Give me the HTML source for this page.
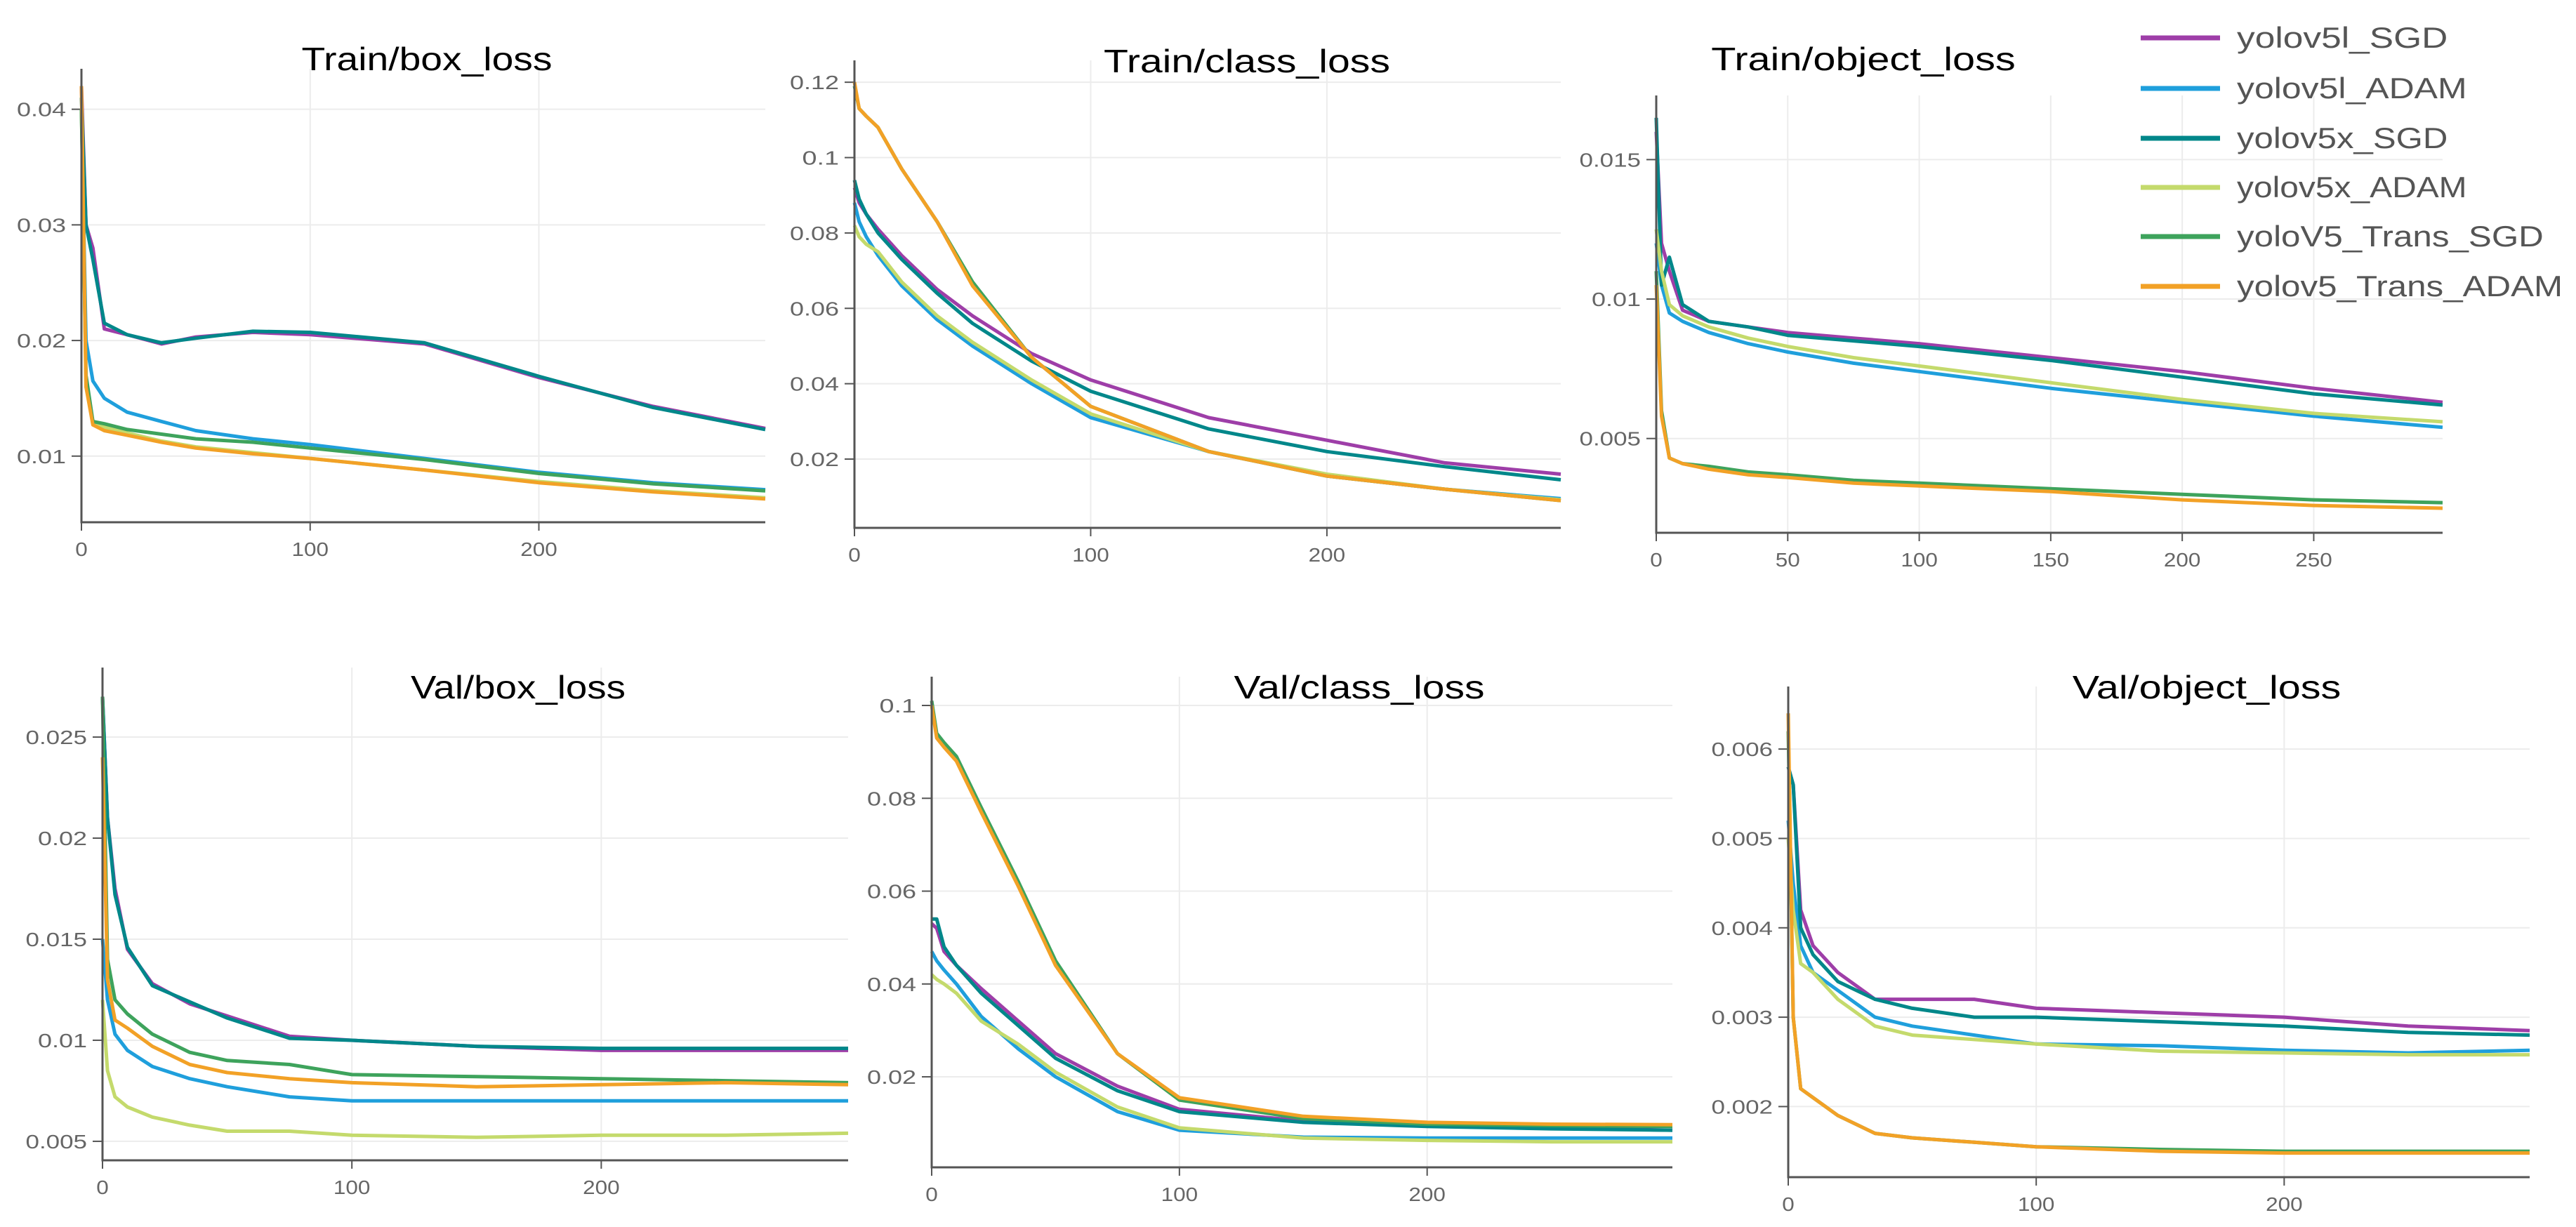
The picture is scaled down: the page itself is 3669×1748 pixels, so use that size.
<!DOCTYPE html>
<html><head><meta charset="utf-8"><style>
html,body{margin:0;padding:0;background:#fff;}
svg{display:block;}
</style></head><body>
<svg id="chart" width="3669" height="1748" viewBox="0 0 3669 1748" xmlns="http://www.w3.org/2000/svg" font-family="'Liberation Sans', sans-serif"></svg>
<script>
// ---- data ----
const seriesNames = ["yolov5l_SGD","yolov5l_ADAM","yolov5x_SGD","yolov5x_ADAM","yoloV5_Trans_SGD","yolov5_Trans_ADAM"];
const seriesColors = ["#9e3ea8","#1f9fdc","#00878a","#c4da6c","#3ea35c","#f2a126"];
const epochs = [0,2,5,10,20,35,50,75,100,150,200,250,299];

const trainBox_l_SGD  = [0.042,0.030,0.028,0.021,0.0205,0.0197,0.0203,0.0207,0.0205,0.0197,0.0168,0.0143,0.0124];
const trainBox_l_ADAM = [0.040,0.020,0.0165,0.015,0.0138,0.0130,0.0122,0.0115,0.0110,0.0098,0.0086,0.0077,0.0071];
const trainBox_x_SGD  = [0.041,0.030,0.027,0.0215,0.0205,0.0198,0.0202,0.0208,0.0207,0.0198,0.0169,0.0142,0.0123];
const trainBox_x_ADAM = [0.040,0.016,0.013,0.0125,0.0120,0.0113,0.0108,0.0103,0.0098,0.0088,0.0078,0.0070,0.0064];
const trainBox_t_SGD  = [0.040,0.017,0.013,0.0128,0.0123,0.0119,0.0115,0.0112,0.0107,0.0097,0.0085,0.0076,0.0070];
const trainBox_t_ADAM = [0.042,0.016,0.0127,0.0122,0.0118,0.0112,0.0107,0.0102,0.0098,0.0088,0.0077,0.0069,0.0063];

const trainCls_l_SGD  = [0.092,0.088,0.085,0.081,0.074,0.065,0.058,0.048,0.041,0.031,0.025,0.019,0.016];
const trainCls_l_ADAM = [0.088,0.083,0.079,0.074,0.066,0.057,0.050,0.040,0.031,0.022,0.0155,0.012,0.0095];
const trainCls_x_SGD  = [0.094,0.089,0.085,0.080,0.073,0.064,0.056,0.046,0.038,0.028,0.022,0.018,0.0145];
const trainCls_x_ADAM = [0.082,0.079,0.077,0.075,0.067,0.058,0.051,0.041,0.032,0.022,0.016,0.012,0.0092];
const trainCls_t_SGD  = [0.119,0.113,0.111,0.108,0.097,0.083,0.067,0.047,0.034,0.022,0.0155,0.012,0.009];
const trainCls_t_ADAM = [0.120,0.113,0.111,0.108,0.097,0.083,0.066,0.047,0.034,0.022,0.0155,0.012,0.009];

const trainObj_l_SGD  = [0.016,0.012,0.011,0.0096,0.0092,0.0090,0.0088,0.0086,0.0084,0.0079,0.0074,0.0068,0.0063];
const trainObj_l_ADAM = [0.012,0.0105,0.0095,0.0092,0.0088,0.0084,0.0081,0.0077,0.0074,0.0068,0.0063,0.0058,0.0054];
const trainObj_x_SGD  = [0.0165,0.0105,0.0115,0.0098,0.0092,0.0090,0.0087,0.0085,0.0083,0.0078,0.0072,0.0066,0.0062];
const trainObj_x_ADAM = [0.0125,0.011,0.0098,0.0094,0.0090,0.0086,0.0083,0.0079,0.0076,0.0070,0.0064,0.0059,0.0056];
const trainObj_t_SGD  = [0.011,0.006,0.0043,0.0041,0.0040,0.0038,0.0037,0.0035,0.0034,0.0032,0.0030,0.0028,0.0027];
const trainObj_t_ADAM = [0.0105,0.0058,0.0043,0.0041,0.0039,0.0037,0.0036,0.0034,0.0033,0.0031,0.0028,0.0026,0.0025];

const valBox_l_SGD  = [0.027,0.021,0.0175,0.0145,0.0128,0.0118,0.0112,0.0102,0.0100,0.0097,0.0095,0.0095,0.0095];
const valBox_l_ADAM = [0.015,0.012,0.0103,0.0095,0.0087,0.0081,0.0077,0.0072,0.0070,0.0070,0.0070,0.0070,0.0070];
const valBox_x_SGD  = [0.027,0.021,0.0172,0.0146,0.0127,0.0119,0.0111,0.0101,0.0100,0.0097,0.0096,0.0096,0.0096];
const valBox_x_ADAM = [0.012,0.0085,0.0072,0.0067,0.0062,0.0058,0.0055,0.0055,0.0053,0.0052,0.0053,0.0053,0.0054];
const valBox_t_SGD  = [0.027,0.014,0.012,0.0113,0.0103,0.0094,0.0090,0.0088,0.0083,0.0082,0.0081,0.0080,0.0079];
const valBox_t_ADAM = [0.024,0.013,0.011,0.0106,0.0097,0.0088,0.0084,0.0081,0.0079,0.0077,0.0078,0.0079,0.0078];

const valCls_l_SGD  = [0.053,0.052,0.047,0.044,0.039,0.032,0.025,0.018,0.013,0.0105,0.0095,0.0090,0.0085];
const valCls_l_ADAM = [0.047,0.045,0.043,0.040,0.033,0.026,0.020,0.0125,0.0085,0.0070,0.0068,0.0068,0.0068];
const valCls_x_SGD  = [0.054,0.054,0.048,0.044,0.038,0.031,0.024,0.017,0.0125,0.0102,0.0093,0.0088,0.0085];
const valCls_x_ADAM = [0.042,0.041,0.040,0.038,0.032,0.027,0.021,0.0135,0.0090,0.0068,0.0063,0.0060,0.0060];
const valCls_t_SGD  = [0.101,0.094,0.092,0.089,0.078,0.062,0.045,0.025,0.0150,0.0110,0.0098,0.0095,0.0093];
const valCls_t_ADAM = [0.100,0.093,0.091,0.088,0.077,0.061,0.044,0.025,0.0155,0.0115,0.0102,0.0098,0.0097];

const valObj_l_SGD  = [0.0058,0.0056,0.0042,0.0038,0.0035,0.0032,0.0032,0.0032,0.0031,0.00305,0.0030,0.0029,0.00285];
const valObj_l_ADAM = [0.0052,0.0045,0.0038,0.0035,0.0033,0.0030,0.0029,0.0028,0.0027,0.00268,0.00263,0.0026,0.00263];
const valObj_x_SGD  = [0.0058,0.0056,0.0040,0.0037,0.0034,0.0032,0.0031,0.0030,0.0030,0.00295,0.0029,0.00283,0.0028];
const valObj_x_ADAM = [0.0050,0.0042,0.0036,0.0035,0.0032,0.0029,0.0028,0.00275,0.0027,0.00262,0.0026,0.00258,0.00258];
const valObj_t_SGD  = [0.0062,0.0030,0.0022,0.0021,0.0019,0.0017,0.00165,0.0016,0.00155,0.00152,0.0015,0.0015,0.0015];
const valObj_t_ADAM = [0.0064,0.0030,0.0022,0.0021,0.0019,0.0017,0.00165,0.0016,0.00155,0.0015,0.00148,0.00148,0.00148];

const titles = ["Train/box_loss","Train/class_loss","Train/object_loss","Val/box_loss","Val/class_loss","Val/object_loss"];
const yTicks0 = [0.01,0.02,0.03,0.04];
const yTickLabels0 = ["0.01","0.02","0.03","0.04"];
const yTicks1 = [0.02,0.04,0.06,0.08,0.1,0.12];
const yTickLabels1 = ["0.02","0.04","0.06","0.08","0.1","0.12"];
const yTicks2 = [0.005,0.01,0.015];
const yTickLabels2 = ["0.005","0.01","0.015"];
const yTicks3 = [0.005,0.01,0.015,0.02,0.025];
const yTickLabels3 = ["0.005","0.01","0.015","0.02","0.025"];
const yTicks4 = [0.02,0.04,0.06,0.08,0.1];
const yTickLabels4 = ["0.02","0.04","0.06","0.08","0.1"];
const yTicks5 = [0.002,0.003,0.004,0.005,0.006];
const yTickLabels5 = ["0.002","0.003","0.004","0.005","0.006"];
const xTicksA = [0,100,200];
const xTicksB = [0,50,100,150,200,250];

// ---- layout (pixels, not data) ----
const panels = [
 {x0:116,x1:1090,yB:744,yT:98,vB:0.00428,vT:0.0435,tx:608,ty:100,yt:yTicks0,yl:yTickLabels0,xt:xTicksA,
  s:[trainBox_l_SGD,trainBox_l_ADAM,trainBox_x_SGD,trainBox_x_ADAM,trainBox_t_SGD,trainBox_t_ADAM],n:"train-box-loss"},
 {x0:1217,x1:2223,yB:752,yT:86,vB:0.00175,vT:0.1258,tx:1776,ty:103,yt:yTicks1,yl:yTickLabels1,xt:xTicksA,
  s:[trainCls_l_SGD,trainCls_l_ADAM,trainCls_x_SGD,trainCls_x_ADAM,trainCls_t_SGD,trainCls_t_ADAM],n:"train-class-loss"},
 {x0:2359,x1:3479,yB:759,yT:136,vB:0.00162,vT:0.0173,tx:2654,ty:100,yt:yTicks2,yl:yTickLabels2,xt:xTicksB,
  s:[trainObj_l_SGD,trainObj_l_ADAM,trainObj_x_SGD,trainObj_x_ADAM,trainObj_t_SGD,trainObj_t_ADAM],n:"train-object-loss"},
 {x0:146,x1:1208,yB:1653,yT:951,vB:0.00406,vT:0.02844,tx:738,ty:995,yt:yTicks3,yl:yTickLabels3,xt:xTicksA,
  s:[valBox_l_SGD,valBox_l_ADAM,valBox_x_SGD,valBox_x_ADAM,valBox_t_SGD,valBox_t_ADAM],n:"val-box-loss"},
 {x0:1327,x1:2382,yB:1663,yT:964,vB:0.0005,vT:0.1062,tx:1936,ty:995,yt:yTicks4,yl:yTickLabels4,xt:xTicksA,
  s:[valCls_l_SGD,valCls_l_ADAM,valCls_x_SGD,valCls_x_ADAM,valCls_t_SGD,valCls_t_ADAM],n:"val-class-loss"},
 {x0:2547,x1:3603,yB:1677,yT:978,vB:0.00121,vT:0.0067,tx:3143,ty:995,yt:yTicks5,yl:yTickLabels5,xt:xTicksA,
  s:[valObj_l_SGD,valObj_l_ADAM,valObj_x_SGD,valObj_x_ADAM,valObj_t_SGD,valObj_t_ADAM],n:"val-object-loss"}
];
const XMAX = 299;
const svg = document.getElementById('chart');
const NS = "http://www.w3.org/2000/svg";
function mk(tag, parent){ const e=document.createElementNS(NS,tag); parent.appendChild(e); return e; }

panels.forEach((p,pi)=>{
  const g = mk('g',svg);
  
  
  const xs = v => p.x0 + (v/XMAX)*(p.x1-p.x0);
  const ys = v => p.yB - (v-p.vB)/(p.vT-p.vB)*(p.yB-p.yT);
  p.yt.forEach((t,i)=>{
    const l = mk('line',g);
    
    
    l.setAttribute('x1',p.x0); l.setAttribute('x2',p.x1); l.setAttribute('y1',ys(t)); l.setAttribute('y2',ys(t));
    l.setAttribute('stroke','#ececec'); l.setAttribute('stroke-width','2');
    const tk = mk('line',g);
    
    
    tk.setAttribute('x1',p.x0-14); tk.setAttribute('x2',p.x0); tk.setAttribute('y1',ys(t)); tk.setAttribute('y2',ys(t));
    tk.setAttribute('stroke','#555'); tk.setAttribute('stroke-width','2');
    const tx = mk('text',g);
    
    
    tx.setAttribute('x',p.x0-22); tx.setAttribute('y',ys(t)+10); tx.setAttribute('text-anchor','end');
    tx.setAttribute('font-size','28'); tx.setAttribute('fill','#666');
    tx.setAttribute('textLength', p.yl[i].length*17.5); tx.setAttribute('lengthAdjust','spacingAndGlyphs');
    tx.textContent = p.yl[i];
  });
  p.xt.forEach(t=>{
    if(t>0){
      const l = mk('line',g);
      
      
      l.setAttribute('x1',xs(t)); l.setAttribute('x2',xs(t)); l.setAttribute('y1',p.yT); l.setAttribute('y2',p.yB);
      l.setAttribute('stroke','#ececec'); l.setAttribute('stroke-width','2');
    }
    const tk = mk('line',g);
    
    
    tk.setAttribute('x1',xs(t)); tk.setAttribute('x2',xs(t)); tk.setAttribute('y1',p.yB); tk.setAttribute('y2',p.yB+12);
    tk.setAttribute('stroke','#555'); tk.setAttribute('stroke-width','2');
    const tx = mk('text',g);
    
    
    tx.setAttribute('x',xs(t)); tx.setAttribute('y',p.yB+48); tx.setAttribute('text-anchor','middle');
    tx.setAttribute('font-size','28'); tx.setAttribute('fill','#666');
    tx.setAttribute('textLength', String(t).length*17.5); tx.setAttribute('lengthAdjust','spacingAndGlyphs');
    tx.textContent = String(t);
  });
  p.s.forEach((arr,si)=>{
    const pl = mk('polyline',g);
    
    
    pl.setAttribute('points', arr.map((v,k)=>xs(epochs[k]).toFixed(1)+','+ys(v).toFixed(1)).join(' '));
    pl.setAttribute('fill','none'); pl.setAttribute('stroke',seriesColors[si]);
    pl.setAttribute('stroke-width','5'); pl.setAttribute('stroke-linejoin','round');
  });
  const ax = mk('path',g);
  
  
  ax.setAttribute('d',`M${p.x0},${p.yT} L${p.x0},${p.yB} L${p.x1},${p.yB}`);
  ax.setAttribute('fill','none'); ax.setAttribute('stroke','#555'); ax.setAttribute('stroke-width','3');
  const tt = mk('text',g);
  
  
  tt.setAttribute('x',p.tx); tt.setAttribute('y',p.ty); tt.setAttribute('text-anchor','middle');
  tt.setAttribute('font-size','46'); tt.setAttribute('fill','#000');
  tt.setAttribute('textLength', titles[pi].length*25.5); tt.setAttribute('lengthAdjust','spacingAndGlyphs');
  tt.textContent = titles[pi];
});

const lg = mk('g',svg);


const legendY = [54,126,197,267,337,408];
seriesNames.forEach((nm,i)=>{
  const e = mk('g',lg);
  
  
  const l = mk('line',e);
  
  
  l.setAttribute('x1',3049); l.setAttribute('x2',3162); l.setAttribute('y1',legendY[i]); l.setAttribute('y2',legendY[i]);
  l.setAttribute('stroke',seriesColors[i]); l.setAttribute('stroke-width','7');
  const t = mk('text',e);
  
  
  t.setAttribute('x',3186); t.setAttribute('y',legendY[i]+14);
  t.setAttribute('font-size','42'); t.setAttribute('fill','#555');
  t.setAttribute('textLength', nm.length*27.3); t.setAttribute('lengthAdjust','spacingAndGlyphs');
  t.textContent = nm;
});
</script>
</body></html>
